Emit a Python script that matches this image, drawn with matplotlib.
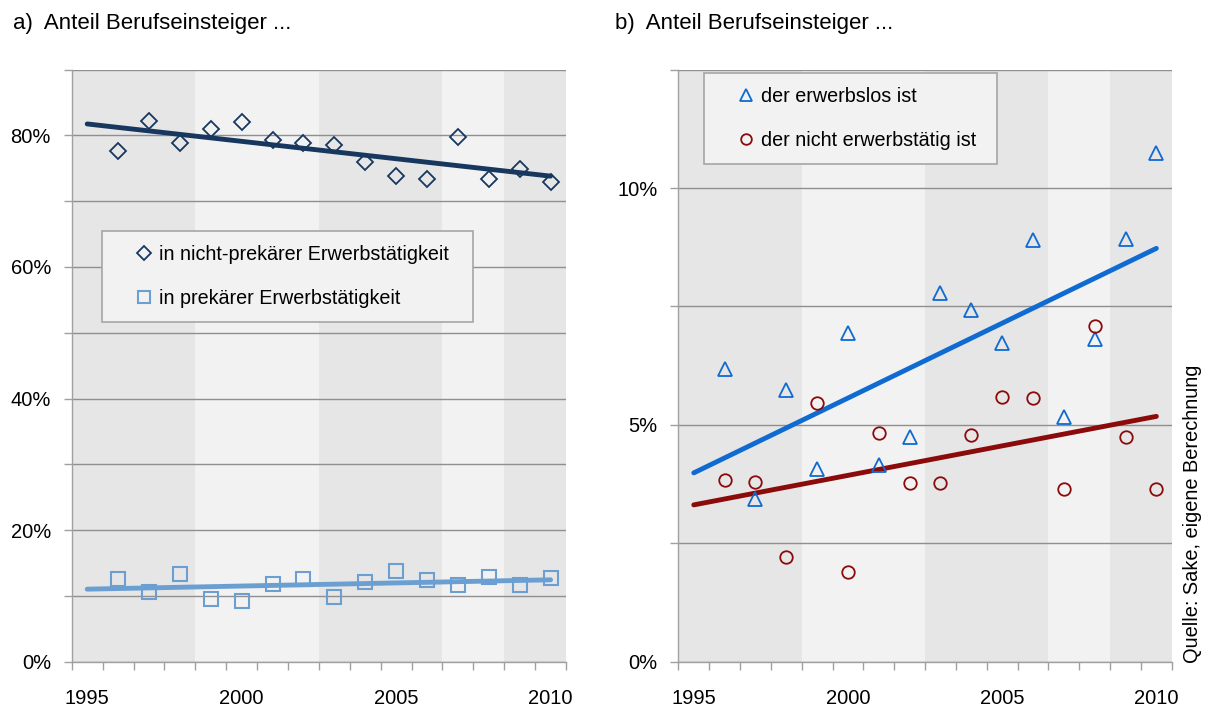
import numpy as np
import matplotlib
matplotlib.use("Agg")
import matplotlib.pyplot as plt
from matplotlib.ticker import FuncFormatter

plt.rcParams["font.family"] = ["Liberation Sans", "DejaVu Sans"]

# data
years = list(range(1996, 2011))
nicht_prekaer = [77.6, 82.2, 78.8, 81.0, 82.0, 79.3, 78.9, 78.6, 75.9, 73.9, 73.4, 79.8, 73.4, 74.9, 72.9]
prekaer = [12.6, 10.6, 13.3, 9.6, 9.2, 11.8, 12.6, 9.9, 12.1, 13.8, 12.4, 11.6, 12.9, 11.6, 12.8]
erwerbslos = [6.17, 3.43, 5.73, 4.06, 6.93, 4.16, 4.75, 7.79, 7.43, 6.72, 8.90, 5.17, 6.81, 8.93, 10.73]
nicht_erwerbstaetig = [3.84, 3.80, 2.22, 5.46, 1.89, 4.82, 3.77, 3.77, 4.78, 5.59, 5.56, 3.64, 7.08, 4.75, 3.64]
trend_years = [1995, 2010]

# shaded periods
band_edges = [1994.5, 1998.5, 2002.5, 2006.5, 2008.5, 2010.5]
band_colors = ["#E6E6E6", "#F2F2F2", "#E6E6E6", "#F2F2F2", "#E6E6E6"]

year_labels = [1995, 2000, 2005, 2010]

GRID = "#8F8F8F"
SPINE = "#A0A0A0"
NAVY = "#17375E"
LIGHTBLUE = "#6C9FD1"
BLUE = "#0F6AD2"
DARKRED = "#8B0A0A"

fig = plt.figure(figsize=(12.12, 7.10), dpi=100)
ax1 = fig.add_axes([0.0592, 0.068, 0.4078, 0.834])
ax2 = fig.add_axes([0.5597, 0.068, 0.4071, 0.834])


def style_axes(ax, ymax, ystep, labelstep):
    for (a, b), c in zip(zip(band_edges[:-1], band_edges[1:]), band_colors):
        ax.axvspan(a, b, color=c, lw=0, zorder=0)
    ax.set_xlim(band_edges[0], band_edges[-1])
    ax.set_ylim(0, ymax)
    yt = np.arange(0, ymax + ystep / 2, ystep)
    ax.set_yticks(yt)
    ax.yaxis.set_major_formatter(FuncFormatter(
        lambda v, p: (f"{v:g}%" if abs(v / labelstep - round(v / labelstep)) < 1e-6 else "")))
    for y in yt:
        ax.axhline(y, color=GRID, lw=1, zorder=1)
    ax.set_xticks(year_labels)
    ax.set_xticks(np.arange(band_edges[0], band_edges[-1] + 0.1, 1), minor=True)
    ax.tick_params(axis="x", which="major", length=0, pad=20, labelsize=14.5)
    ax.tick_params(axis="x", which="minor", length=5.5, width=1, color=SPINE, direction="out")
    ax.tick_params(axis="y", length=6, width=1, color=SPINE, pad=9, labelsize=14.5)
    for s in ["top", "right"]:
        ax.spines[s].set_visible(False)
    for s in ["left", "bottom"]:
        ax.spines[s].set_color(SPINE)
        ax.spines[s].set_linewidth(1)
        ax.spines[s].set_zorder(2)


def trend(x, y):
    k, d = np.polyfit(x, y, 1)
    return [k * t + d for t in trend_years]


def legend(ax, anchor):
    leg = ax.legend(loc="upper left", bbox_to_anchor=anchor, mode="expand", fontsize=14.2, frameon=True,
                    fancybox=False, borderpad=0.68, labelspacing=1.3, handlelength=2.9,
                    handletextpad=-0.7, borderaxespad=0, markerscale=0.85)
    fr = leg.get_frame()
    fr.set_edgecolor("#A6A6A6")
    fr.set_facecolor("#F2F2F2")
    fr.set_alpha(1)
    fr.set_linewidth(1.2)
    return leg


# a) left panel
style_axes(ax1, 90, 10, 20)
ax1.plot(trend_years, trend(years, nicht_prekaer), color=NAVY, lw=3.5, solid_capstyle="round", zorder=3)
ax1.plot(trend_years, trend(years, prekaer), color=LIGHTBLUE, lw=3.5, solid_capstyle="round", zorder=3)
ax1.plot(years, nicht_prekaer, ls="none", marker="D", ms=8.3, mfc="none", mec=NAVY, mew=1.3, zorder=4,
         label="in nicht-prekärer Erwerbstätigkeit")
ax1.plot(years, prekaer, ls="none", marker="s", ms=9.5, mfc="none", mec=LIGHTBLUE, mew=1.5, zorder=4,
         label="in prekärer Erwerbstätigkeit")
legend(ax1, (0.061, 0.727, 0.751, 0))

# b) right panel
style_axes(ax2, 12.5, 2.5, 5)
ax2.plot(trend_years, trend(years, erwerbslos), color=BLUE, lw=3.5, solid_capstyle="round", zorder=3)
ax2.plot(trend_years, trend(years, nicht_erwerbstaetig), color=DARKRED, lw=3.5, solid_capstyle="round", zorder=3)
ax2.plot(years, erwerbslos, ls="none", marker="^", ms=10, mfc="none", mec=BLUE, mew=1.3, zorder=4,
         label="der erwerbslos ist")
ax2.plot(years, nicht_erwerbstaetig, ls="none", marker="o", ms=9, mfc="none", mec=DARKRED, mew=1.3, zorder=4,
         label="der nicht erwerbstätig ist")
legend(ax2, (0.052, 0.994, 0.594, 0))

fig.text(13 / 1212, 1 - 29 / 710, "a)  Anteil Berufseinsteiger ...", fontsize=16, ha="left", va="baseline")
fig.text(615 / 1212, 1 - 29 / 710, "b)  Anteil Berufseinsteiger ...", fontsize=16, ha="left", va="baseline")
fig.text(1193 / 1212, 1 - 663 / 710, "Quelle: Sake, eigene Berechnung", fontsize=14.4, rotation=90,
         ha="center", va="bottom")

fig.savefig("out.png", dpi=100)
